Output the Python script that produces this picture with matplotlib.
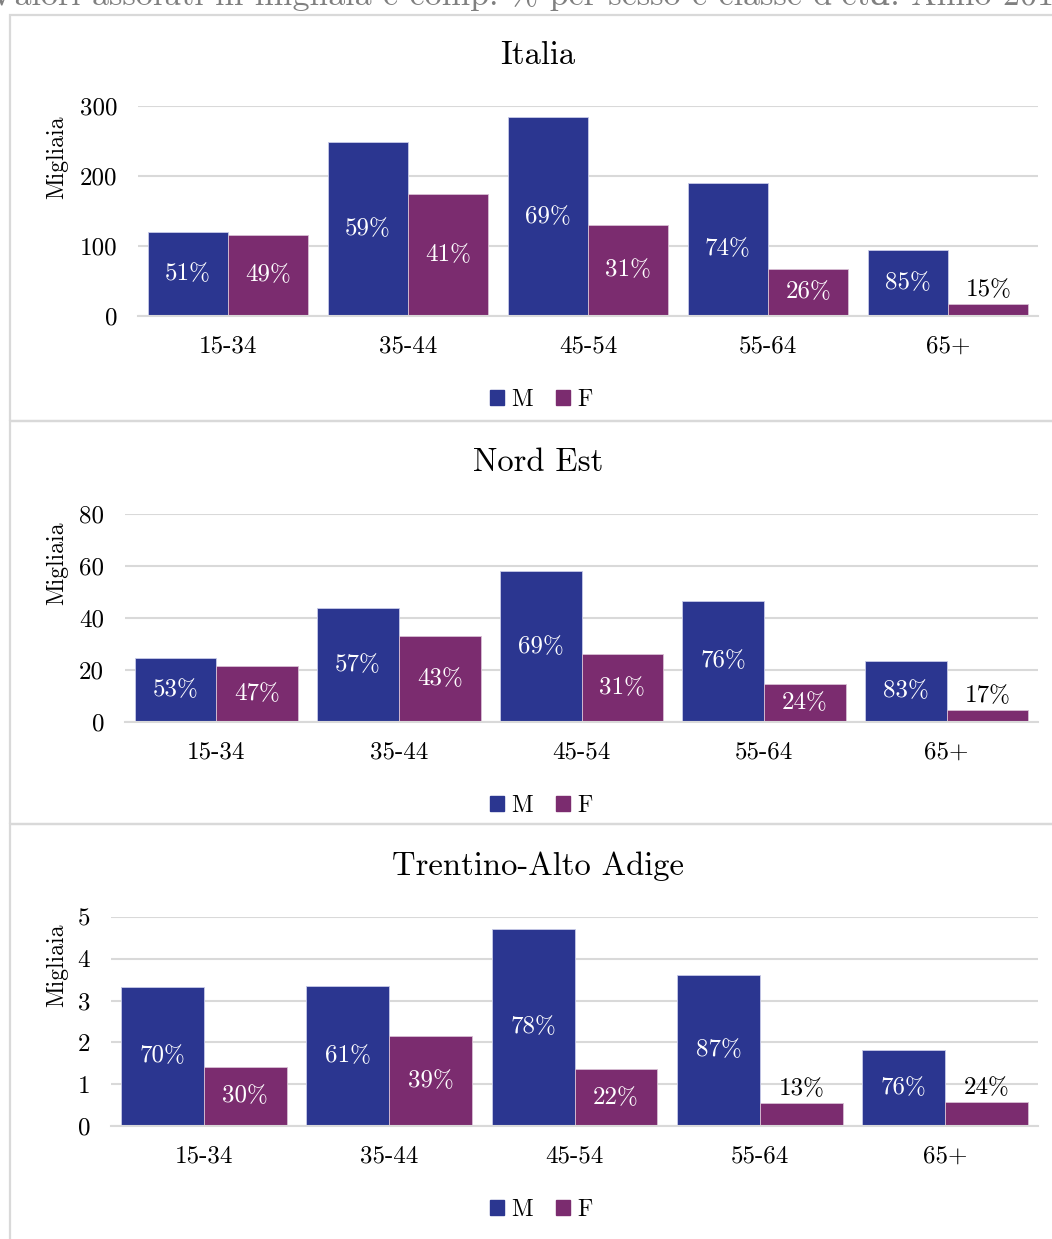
import matplotlib
matplotlib.use("Agg")
import matplotlib.pyplot as plt
from matplotlib.patches import Rectangle, Patch

plt.rcParams['font.family'] = ['cmr10', 'DejaVu Serif']
plt.rcParams['axes.formatter.use_mathtext'] = True

# Dati (migliaia)
classi = ['15-34', '35-44', '45-54', '55-64', '65+']

italia_m = [120, 249, 284, 190, 94]
italia_f = [116, 174, 130, 67, 17]
italia_pm = ['51%', '59%', '69%', '74%', '85%']
italia_pf = ['49%', '41%', '31%', '26%', '15%']

nordest_m = [24.6, 43.8, 58.0, 46.5, 23.5]
nordest_f = [21.5, 33.0, 26.0, 14.6, 4.6]
nordest_pm = ['53%', '57%', '69%', '76%', '83%']
nordest_pf = ['47%', '43%', '31%', '24%', '17%']

taa_m = [3.33, 3.35, 4.71, 3.61, 1.82]
taa_f = [1.41, 2.15, 1.36, 0.55, 0.58]
taa_pm = ['70%', '61%', '78%', '87%', '76%']
taa_pf = ['30%', '39%', '22%', '13%', '24%']

COL_M = '#2B3690'
COL_F = '#7B2C6F'
GRID = '#D9D9D9'

W, H = 1052, 1239
fig = plt.figure(figsize=(W / 100, H / 100), dpi=100)


def px_rect(x0, y0, x1, y1):
    # pixel box (origine in alto) -> coordinate figura
    return [x0 / W, 1 - y1 / H, (x1 - x0) / W, (y1 - y0) / H]


# Testo tagliato in alto (come nell'originale)
fig.text(530 / W, 1 - 5 / H,
         "Valori assoluti in migliaia e comp. % per sesso e classe d'età. Anno 2018",
         ha='center', va='baseline', fontsize=24.5, color='#808080')

# Riquadri dei pannelli
for y0, y1 in [(15, 421), (421, 824), (824, 1270)]:
    fig.patches.append(Rectangle((10 / W, 1 - y1 / H), 1.2, (y1 - y0) / H,
                                 transform=fig.transFigure, fill=False,
                                 edgecolor=GRID, lw=1.6))

pannelli = [
    ('Italia', italia_m, italia_f, italia_pm, italia_pf, 300, 100,
     (138, 106, 1038, 316), 55, 157, 400),
    ('Nord Est', nordest_m, nordest_f, nordest_pm, nordest_pf, 80, 20,
     (125, 514, 1038, 722), 462, 563, 806),
    ('Trentino-Alto Adige', taa_m, taa_f, taa_pm, taa_pf, 5, 1,
     (111, 917, 1038, 1126), 866, 965, 1210),
]

for titolo, vm, vf, pm, pf, ymax, step, box, ty, ly, gy in pannelli:
    ax = fig.add_axes(px_rect(*box))
    x = range(len(classi))
    bw = 0.447
    bm = ax.bar([i - bw / 2 for i in x], vm, width=bw, color=COL_M,
                edgecolor='#C8CBE8', linewidth=0.6)
    bf = ax.bar([i + bw / 2 for i in x], vf, width=bw, color=COL_F,
                edgecolor='#D8C0D4', linewidth=0.6)

    for bars, labs in [(bm, pm), (bf, pf)]:
        for b, lab in zip(bars, labs):
            h = b.get_height()
            cx = b.get_x() + b.get_width() / 2
            if h / ymax > 0.15:
                ax.text(cx, h / 2, lab, ha='center', va='center',
                        color='white', fontsize=18)
            else:
                ax.annotate(lab, (cx, h), xytext=(0, 2), textcoords='offset points',
                            ha='center', va='bottom', color='black', fontsize=18)

    ticks = [step * k for k in range(int(round(ymax / step)) + 1)]
    ax.set_xlim(-0.5, len(classi) - 0.5)
    ax.set_ylim(0, ymax)
    ax.set_yticks(ticks)
    ax.set_yticklabels([str(t) for t in ticks])
    ax.set_xticks(list(x))
    ax.set_xticklabels(classi)
    ax.tick_params(axis='both', length=0, labelsize=18)
    ax.tick_params(axis='y', pad=15)
    ax.tick_params(axis='x', pad=14)
    ax.grid(axis='y', color=GRID, lw=1.5)
    ax.set_axisbelow(True)
    for s in ['top', 'left', 'right']:
        ax.spines[s].set_visible(False)
    ax.spines['bottom'].set_color(GRID)
    ax.spines['bottom'].set_linewidth(1.5)

    fig.text(538 / W, 1 - ty / H, titolo, ha='center', va='center', fontsize=23.5)
    fig.text(57 / W, 1 - ly / H, 'Migliaia', ha='center', va='center',
             rotation=90, fontsize=17)
    fig.legend(handles=[Patch(color=COL_M, label='M'), Patch(color=COL_F, label='F')],
               loc='center', bbox_to_anchor=(541 / W, 1 - gy / H), ncol=2,
               frameon=False, fontsize=17, handlelength=0.6, handleheight=0.6,
               handletextpad=0.3, columnspacing=1.0)

fig.savefig('out.png', dpi=100)
